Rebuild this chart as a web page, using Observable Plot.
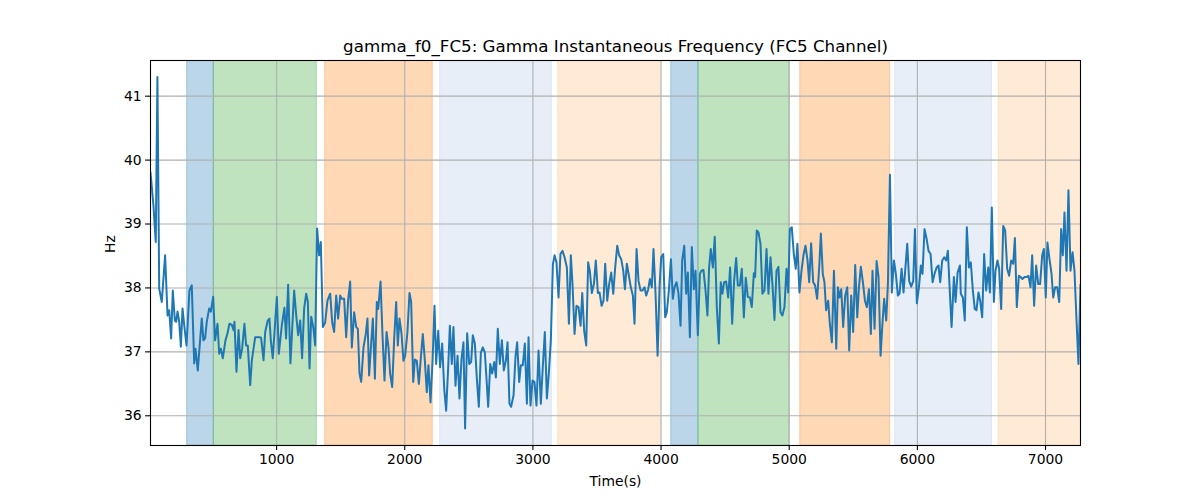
<!DOCTYPE html>
<html>
<head>
<meta charset="utf-8">
<script src="https://cdn.jsdelivr.net/npm/d3@7"></script>
<script src="https://cdn.jsdelivr.net/npm/@observablehq/plot@0.6"></script>
<style>
  html, body { margin: 0; padding: 0; background: #fff; }
  #chart { width: 1200px; height: 500px; }
</style>
</head>
<body>
<div id="chart"></div>
<script>
const titleText = "gamma_f0_FC5: Gamma Instantaneous Frequency (FC5 Channel)";
const xLabel = "Time(s)";
const yLabel = "Hz";
const xTicks = [1000, 2000, 3000, 4000, 5000, 6000, 7000];
const yTicks = [36, 37, 38, 39, 40, 41];

const bandStarts = [302, 510, 1379, 2276, 3197, 4079, 4292, 5086, 5827, 6634];
const bandEnds   = [510, 1314, 2219, 3148, 3998, 4292, 5002, 5788, 6582, 7290];
const bandColors = ["#1f77b4", "#2ca02c", "#ff7f0e", "#aec7e8", "#ffbb78",
                    "#1f77b4", "#2ca02c", "#ff7f0e", "#aec7e8", "#ffbb78"];

const times = [
16,39,57,70,84,104,130,149,162,177,190,206,216,227,240,253,266,279,297,320,338,357,367,385,416,429,442,455,474,487,505,520,539,552,565,580,601,617,632,651,664,671,687,703,716,731,749,762,775,794,807,833,864,879,898,911,931,944,955,970,1002,1017,1041,1061,1074,1090,1108,1137,1153,1168,1184,1199,1215,1231,1244,1257,1270,1288,1301,1316,1332,1345,
1361,1379,1397,1418,1434,1449,1465,1480,1496,1509,1527,1543,1558,1574,1587,1605,1621,1634,1647,1660,1678,1696,1709,1722,1738,1751,1767,1782,1793,1811,1826,1842,1858,1873,1886,1902,1917,1933,1946,1959,1975,1990,2003,2021,2037,2050,2066,2079,2094,2110,2126,2141,2157,2172,2185,2201,2217,2232,2245,2261,2276,2292,2308,2323,2339,2352,2367,2380,2396,2412,2427,2443,2458,2471,2487,2503,2518,2531,2547,2562,2578,2594,2609,2625,2638,2651,2667,2682,2698,2711,2726,2742,2758,2773,2789,2802,2817,2830,2849,2864,2877,2893,2906,2921,2937,2953,2966,2981,2997,3012,3028,3044,3062,3077,3093,3109,3124,3140,3156,3169,3184,3200,3215,3231,3247,3265,
3281,3296,3309,3325,3340,3356,3372,3385,3400,3416,3431,3444,3460,3476,3491,3507,3520,3536,3551,3564,3580,3595,3611,3627,3642,3658,3673,3689,3705,3718,3733,3749,3764,3780,3793,3809,3824,3840,3855,3871,3884,3900,3913,3928,3941,3957,3973,3988,4001,4017,4032,4045,4061,4077,4092,4105,4121,4136,4152,4165,4181,4196,4209,4225,4240,4256,4269,4287,4303,
4315,4331,4347,4362,4375,4388,4404,4419,4435,4451,4466,4479,4492,4508,4524,4539,4555,4570,4586,4599,4615,4630,4646,4661,4677,4693,4708,4724,4734,4747,4760,4776,4791,4807,4823,4838,4854,4869,4885,4901,4916,4932,4947,4963,4979,4992,5005,5020,5036,5051,5064,5080,5096,5111,5127,5143,5156,5171,5187,5202,5218,5234,5247,5262,5275,5288,5304,5317,
5333,5349,5367,5380,5393,5406,5421,5437,5453,5468,5484,5499,5515,5531,5544,5559,5575,5591,5606,5622,5637,5650,5666,5682,5697,5713,5728,5741,5757,5770,5786,5801,5817,5832,5848,5861,5877,5892,5905,5921,5936,5952,5968,5981,5996,6012,6027,6040,6056,6072,6087,6103,6119,6134,6150,6165,6178,6194,6210,6225,6238,6254,6267,6285,6298,6314,6332,
6339,6355,6370,6386,6402,6417,6433,6448,6461,6477,6490,6506,6521,6537,6553,6566,6581,6597,6610,6625,6638,6654,6670,6685,6701,6716,6732,6748,6761,6776,6792,6805,6820,6836,6852,6867,6883,6896,6911,6927,6943,6958,6974,6987,7002,7015,7031,7047,7060,7075,7091,7107,7122,7135,7148,7164,7179,7195,7211,7226,7242,7257,7273
];

const freq = [
39.81,39.29,38.72,41.30,37.99,37.78,38.51,37.57,37.65,37.21,37.96,37.49,37.47,37.63,37.47,37.08,37.68,37.42,37.10,37.96,38.04,36.82,37.05,36.71,37.52,37.18,37.21,37.47,37.68,37.63,37.86,37.18,37.44,36.97,37.05,36.90,37.18,37.29,37.44,37.42,37.34,37.47,36.69,37.34,36.90,37.05,37.44,37.10,37.10,36.48,36.87,37.23,37.23,37.22,36.87,37.31,37.49,37.52,37.18,36.90,37.86,36.97,37.42,37.69,37.21,38.05,36.82,37.96,37.57,37.26,37.49,36.90,37.68,37.91,37.78,36.74,37.55,37.36,37.10,38.93,38.51,38.72,
37.39,37.46,37.80,37.91,37.46,37.31,37.88,37.52,37.88,37.83,37.83,37.23,37.80,38.10,37.07,37.62,37.39,37.36,36.66,36.53,37.07,37.28,37.52,36.63,37.13,37.52,36.58,37.78,37.67,38.10,37.28,36.55,37.31,37.07,36.66,36.45,37.18,37.78,37.10,37.52,37.28,36.86,36.94,37.31,37.92,37.78,36.53,36.88,36.86,36.50,36.92,37.28,36.86,36.37,36.79,36.21,36.86,37.72,36.81,37.33,36.76,37.13,36.42,36.08,36.76,37.41,36.81,37.39,36.47,36.94,36.27,36.89,37.15,35.80,37.29,36.81,36.84,37.26,37.13,36.60,36.14,36.99,37.07,36.99,36.58,36.14,36.81,36.66,36.84,36.60,37.36,36.81,37.18,36.71,36.86,37.15,36.19,36.14,36.32,36.92,37.15,36.53,36.79,36.79,37.13,36.19,37.23,36.16,36.55,36.53,36.16,37.02,36.19,36.76,37.31,36.27,36.66,37.18,38.37,38.51,38.40,37.85,38.53,38.58,38.48,38.32,
37.44,38.51,38.06,37.28,37.72,37.70,37.41,37.92,37.33,37.10,38.40,38.27,37.92,38.06,38.43,37.92,37.93,37.72,37.80,38.38,37.80,38.06,38.24,37.91,38.32,38.66,38.51,38.45,38.27,37.98,38.38,38.19,38.01,37.88,37.44,38.61,38.11,37.96,37.96,38.01,37.88,37.98,38.14,38.01,38.61,37.91,36.94,38.01,38.48,38.53,37.54,37.62,37.96,38.45,37.83,38.01,38.09,37.91,37.41,38.43,38.66,37.91,38.24,37.23,38.64,37.98,38.27,37.26,38.22,
38.27,38.28,37.96,37.57,38.32,38.61,38.32,38.80,37.70,37.13,38.09,37.91,38.09,38.10,37.85,38.32,37.44,38.11,38.47,38.04,38.04,38.30,37.54,38.16,37.86,37.85,37.70,38.23,38.17,38.90,38.87,38.69,37.91,37.96,38.61,37.91,38.48,38.06,37.50,38.27,38.33,37.62,37.57,37.70,38.30,37.93,38.92,38.95,38.53,38.30,38.69,37.93,38.27,38.51,38.66,38.43,38.09,38.70,38.09,38.04,37.83,38.32,38.85,38.22,38.09,37.65,37.80,37.44,
37.15,38.27,37.05,38.01,37.85,37.98,37.39,37.88,38.01,37.02,37.88,37.31,38.36,37.54,38.01,38.33,38.09,37.80,37.70,37.98,37.28,38.27,37.36,38.42,38.17,36.94,37.46,37.83,37.49,38.06,39.77,37.93,38.43,38.22,37.88,37.91,38.30,37.93,38.27,38.69,38.11,38.02,38.11,38.92,37.76,38.01,38.35,38.22,38.92,38.77,38.58,38.53,38.09,38.22,38.32,38.35,38.09,38.43,38.48,38.43,38.58,37.91,37.39,38.17,37.78,38.24,38.35,
37.91,37.85,37.49,38.95,38.32,38.40,37.96,37.67,37.65,37.93,37.80,37.54,38.53,37.96,38.32,37.93,39.26,37.78,38.27,38.43,38.30,37.67,38.97,38.90,38.30,38.19,38.43,38.38,38.78,37.70,38.19,38.17,38.14,38.17,38.17,38.19,38.01,38.51,37.72,38.35,38.06,38.06,38.51,38.61,37.85,38.71,38.45,38.22,37.85,38.01,38.01,37.78,38.92,38.51,39.18,38.27,39.53,38.27,38.56,38.27,37.49,36.81,38.05
];

const series = times.map((t, i) => ({t, v: freq[i]}));
const bands = bandStarts.map((s, i) => ({x1: s, x2: bandEnds[i], color: bandColors[i]}));

const font = "DejaVu Sans, sans-serif";

const chart = Plot.plot({
  width: 1200,
  height: 500,
  marginLeft: 150,
  marginRight: 120,
  marginTop: 60,
  marginBottom: 55,
  style: {fontFamily: font, fontSize: "13.9px", background: "#fff", color: "#000"},
  x: {domain: [16, 7273], label: null},
  y: {domain: [35.535, 41.558], label: null},
  marks: [
    Plot.rect(bands, {x1: "x1", x2: "x2", fill: "color", fillOpacity: 0.3, stroke: "color", strokeOpacity: 0.3, strokeWidth: 1, clip: true}),
    Plot.gridX(xTicks, {stroke: "#b0b0b0", strokeOpacity: 1, strokeWidth: 1.1}),
    Plot.gridY(yTicks, {stroke: "#b0b0b0", strokeOpacity: 1, strokeWidth: 1.1}),
    Plot.lineY(series, {x: "t", y: "v", stroke: "#1f77b4", strokeWidth: 2, clip: true}),
    Plot.frame({stroke: "#000", strokeWidth: 1.1}),
    Plot.axisX(xTicks, {tickSize: 4.9, tickPadding: 4, fontSize: 13.9, label: null, tickFormat: d => String(d), strokeWidth: 1.1}),
    Plot.axisY(yTicks, {tickSize: 4.9, tickPadding: 4, fontSize: 13.9, label: null, tickFormat: d => String(d), strokeWidth: 1.1}),
    Plot.text([titleText], {frameAnchor: "top", dy: -14, lineAnchor: "middle", fontSize: 16.7, fill: "#000"}),
    Plot.text([xLabel], {frameAnchor: "bottom", dy: 36, lineAnchor: "middle", fontSize: 13.9, fill: "#000"}),
    Plot.text([yLabel], {frameAnchor: "left", dx: -40, rotate: -90, lineAnchor: "middle", fontSize: 13.9, fill: "#000"})
  ]
});
document.getElementById("chart").appendChild(chart);
</script>
</body>
</html>
